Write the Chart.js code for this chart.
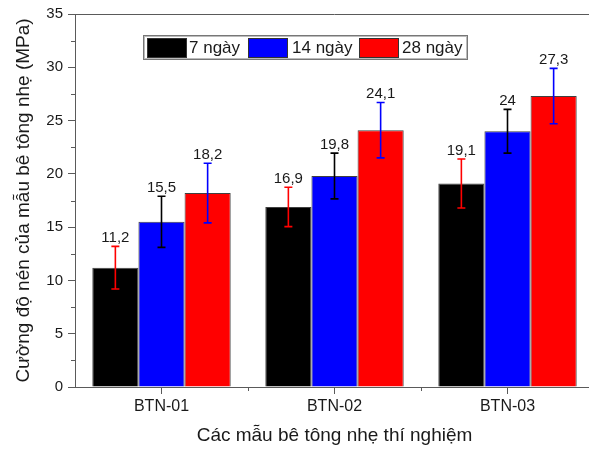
<!DOCTYPE html>
<html>
<head>
<meta charset="utf-8">
<script src="https://cdn.jsdelivr.net/npm/chart.js@4"></script>
<style>
  html, body { margin: 0; padding: 0; background: #fff; overflow: hidden; }
  #wrap { width: 600px; height: 450px; }
</style>
</head>
<body>
<div id="wrap"><canvas id="chart"></canvas></div>
<script>
// Dữ liệu
const categories = ['BTN-01', 'BTN-02', 'BTN-03'];
const seriesLabels = ['7 ngày', '14 ngày', '28 ngày'];
const values7 = [11.2, 16.9, 19.1];
const values14 = [15.5, 19.8, 24];
const values28 = [18.2, 24.1, 27.3];
const errors7 = [2.0, 1.85, 2.3];
const errors14 = [2.4, 2.15, 2.05];
const errors28 = [2.8, 2.6, 2.6];
const yTicks = [0, 5, 10, 15, 20, 25, 30, 35];
const yMinorTicks = [2.5, 7.5, 12.5, 17.5, 22.5, 27.5, 32.5];

const FONT = "'Liberation Sans', Arial, sans-serif";
const AXIS = '#5a5a5a';
const TEXT = '#1a1a1a';
const barColors = ['#000000', '#0000ff', '#ff0000'];
const errColors = ['#ff0000', '#000000', '#0000ff'];
const errors = [errors7, errors14, errors28];

// Thanh sai số + nhãn giá trị
const errorBars = {
  id: 'errorBars',
  afterDatasetsDraw(chart) {
    const ctx = chart.ctx;
    const y = chart.scales.y;
    ctx.save();
    chart.data.datasets.forEach((ds, i) => {
      chart.getDatasetMeta(i).data.forEach((bar, j) => {
        const v = ds.data[j], e = errors[i][j];
        const top = y.getPixelForValue(v + e);
        const bot = y.getPixelForValue(v - e);
        const x = bar.x;
        ctx.strokeStyle = errColors[i];
        ctx.lineWidth = 1.6;
        ctx.beginPath();
        ctx.moveTo(x, top); ctx.lineTo(x, bot);
        ctx.moveTo(x - 4, top); ctx.lineTo(x + 4, top);
        ctx.moveTo(x - 4, bot); ctx.lineTo(x + 4, bot);
        ctx.stroke();
        ctx.fillStyle = TEXT;
        ctx.font = '15px ' + FONT;
        ctx.textAlign = 'center';
        ctx.textBaseline = 'alphabetic';
        ctx.fillText(String(v).replace('.', ','), x, top - 4);
      });
    });
    ctx.restore();
  }
};

// Khung, vạch chia phụ, chú thích
const frame = {
  id: 'frame',
  afterDraw(chart) {
    const ctx = chart.ctx;
    const a = chart.chartArea;
    const y = chart.scales.y, x = chart.scales.x;
    ctx.save();
    ctx.strokeStyle = AXIS;
    ctx.lineWidth = 1;
    ctx.beginPath();
    ctx.moveTo(a.left, a.top + 0.5); ctx.lineTo(a.right, a.top + 0.5);
    ctx.moveTo(a.right - 0.5, a.top); ctx.lineTo(a.right - 0.5, a.bottom);
    yMinorTicks.forEach(v => {
      const py = Math.round(y.getPixelForValue(v)) + 0.5;
      ctx.moveTo(a.left - 4, py); ctx.lineTo(a.left, py);
    });
    for (let k = 1; k < categories.length; k++) {
      const px = Math.round((x.getPixelForValue(k - 1) + x.getPixelForValue(k)) / 2) + 0.5;
      ctx.moveTo(px, a.bottom); ctx.lineTo(px, a.bottom + 4);
    }
    ctx.stroke();

    // chú thích
    const lx = 143, ly = 35, lw = 324, lh = 24;
    ctx.fillStyle = '#fff';
    ctx.fillRect(lx, ly, lw, lh);
    ctx.strokeStyle = '#777';
    ctx.lineWidth = 1;
    ctx.strokeRect(lx + 0.5, ly + 0.5, lw, lh);
    ctx.strokeStyle = '#bbb';
    ctx.strokeRect(lx + 1.5, ly + 1.5, lw - 2, lh - 2);
    const items = [[147, 189], [248, 292], [359, 402]];
    ctx.font = '17px ' + FONT;
    ctx.textBaseline = 'middle';
    ctx.textAlign = 'left';
    items.forEach(([sx, tx], i) => {
      ctx.fillStyle = barColors[i];
      ctx.fillRect(sx, ly + 3, 39, 19);
      ctx.strokeStyle = '#333';
      ctx.strokeRect(sx + 0.5, ly + 3.5, 39, 19);
      ctx.fillStyle = TEXT;
      ctx.fillText(seriesLabels[i], tx, ly + lh / 2 + 1);
    });
    ctx.restore();
  }
};

new Chart(document.getElementById('chart'), {
  type: 'bar',
  data: {
    labels: categories,
    datasets: [values7, values14, values28].map((d, i) => ({
      label: seriesLabels[i],
      data: d,
      backgroundColor: barColors[i],
      borderColor: '#404040',
      borderWidth: 1,
      categoryPercentage: 0.8,
      barPercentage: 1.0
    }))
  },
  options: {
    responsive: true,
    maintainAspectRatio: false,
    animation: false,
    layout: { padding: { top: 13, right: 6, left: 0, bottom: 0 } },
    plugins: { legend: { display: false }, tooltip: { enabled: false } },
    scales: {
      x: {
        grid: { offset: false, drawOnChartArea: false, tickLength: 7, color: AXIS },
        border: { color: AXIS, width: 1 },
        ticks: { color: TEXT, font: { family: FONT, size: 16 }, padding: 3 },
        title: { display: true, text: 'Các mẫu bê tông nhẹ thí nghiệm', color: TEXT, font: { family: FONT, size: 19 }, padding: { top: 0, bottom: 3 } },
        afterFit(s) { s.height = 63; }
      },
      y: {
        min: 0, max: 35,
        afterBuildTicks(s) { s.ticks = yTicks.map(v => ({ value: v })); },
        grid: { drawOnChartArea: false, tickLength: 7, color: AXIS },
        border: { color: AXIS, width: 1 },
        ticks: { color: TEXT, font: { family: FONT, size: 15 }, padding: 5 },
        title: { display: true, text: 'Cường độ nén của mẫu bê tông nhẹ (MPa)', color: TEXT, font: { family: FONT, size: 19 }, padding: { top: 12, bottom: 0 } },
        afterFit(s) { s.width = 75; }
      }
    }
  },
  plugins: [errorBars, frame]
});
</script>
</body>
</html>
